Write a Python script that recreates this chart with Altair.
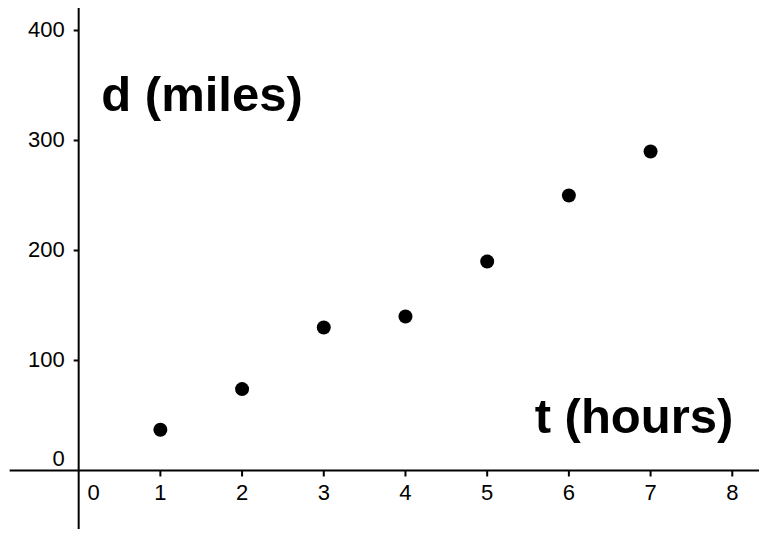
import altair as alt
import pandas as pd

# data
t_hours = [1, 2, 3, 4, 5, 6, 7]
d_miles = [37, 74, 130, 140, 190, 250, 290]
x_tick_values = [1, 2, 3, 4, 5, 6, 7, 8]
y_tick_values = [100, 200, 300, 400]
x_label_title = "t (hours)"
y_label_title = "d (miles)"

FONT = "Liberation Sans"
W, H = 751, 521
X_DOMAIN = [-0.865, 8.327]
Y_DOMAIN = [-53.2, 420.45]

xs = alt.Scale(domain=X_DOMAIN, nice=False, zero=False)
ys = alt.Scale(domain=Y_DOMAIN, nice=False, zero=False)

X = alt.X("t:Q", scale=xs, axis=None)
Y = alt.Y("d:Q", scale=ys, axis=None)
X2 = alt.X2("t2:Q")
Y2 = alt.Y2("d2:Q")

pts = pd.DataFrame({"t": t_hours, "d": d_miles})
xt = pd.DataFrame({"t": x_tick_values, "d": [0] * len(x_tick_values), "d2": [0] * len(x_tick_values),
                   "lab": [str(v) for v in x_tick_values]})
yt = pd.DataFrame({"d": y_tick_values, "t": [0] * len(y_tick_values), "t2": [0] * len(y_tick_values),
                   "lab": [str(v) for v in y_tick_values]})
xline = pd.DataFrame({"t": [X_DOMAIN[0] + 0.02], "t2": [X_DOMAIN[1]], "d": [0]})
yline = pd.DataFrame({"d": [Y_DOMAIN[0]], "d2": [Y_DOMAIN[1]], "t": [0]})
zero = pd.DataFrame({"t": [0], "d": [0], "lab": ["0"]})

x_axis = alt.Chart(xline).mark_rule(color="black", strokeWidth=2).encode(x=X, x2=X2, y=Y)
y_axis = alt.Chart(yline).mark_rule(color="black", strokeWidth=2).encode(y=Y, y2=Y2, x=X)

x_ticks = alt.Chart(xt).mark_rule(color="black", strokeWidth=2, y2Offset=6).encode(x=X, y=Y, y2=Y2)
y_ticks = alt.Chart(yt).mark_rule(color="black", strokeWidth=2, x2Offset=-5).encode(y=Y, x=X, x2=X2)

x_labels = alt.Chart(xt).mark_text(font=FONT, fontSize=22, align="center", baseline="middle", dy=23).encode(
    x=X, y=Y, text="lab:N")
x_zero = alt.Chart(zero).mark_text(font=FONT, fontSize=22, align="center", baseline="middle", dy=23, dx=15).encode(
    x=X, y=Y, text="lab:N")
y_labels = alt.Chart(yt).mark_text(font=FONT, fontSize=22, align="right", baseline="middle", dx=-14, dy=0).encode(
    x=X, y=Y, text="lab:N")
y_zero = alt.Chart(zero).mark_text(font=FONT, fontSize=22, align="right", baseline="middle", dx=-14, dy=-11).encode(
    x=X, y=Y, text="lab:N")

points = alt.Chart(pts).mark_circle(color="black", opacity=1, size=195).encode(x=X, y=Y)

t_title = alt.Chart(pd.DataFrame({"lab": [x_label_title]})).mark_text(
    font=FONT, fontSize=49, fontWeight="bold", align="center", baseline="alphabetic").encode(
    x=alt.value(626), y=alt.value(425), text="lab:N")
d_title = alt.Chart(pd.DataFrame({"lab": [y_label_title]})).mark_text(
    font=FONT, fontSize=49, fontWeight="bold", align="center", baseline="alphabetic").encode(
    x=alt.value(194), y=alt.value(103), text="lab:N")

chart = alt.layer(x_axis, y_axis, x_ticks, y_ticks, x_labels, x_zero, y_labels, y_zero,
                  points, t_title, d_title).properties(
    width=W, height=H, autosize=alt.AutoSizeParams(type="none"),
    padding={"left": 0, "top": 0, "right": 0, "bottom": 0}
).configure_view(stroke=None, strokeWidth=0, fill=None)

chart.save("out.html", embed_options={"renderer": "svg", "actions": False})
